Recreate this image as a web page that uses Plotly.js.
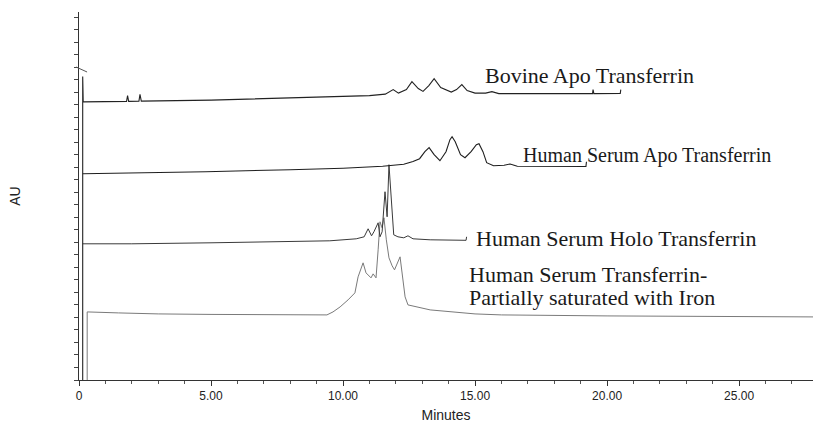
<!DOCTYPE html>
<html>
<head>
<meta charset="utf-8">
<script src="https://cdn.plot.ly/plotly-3.0.1.min.js"></script>
<style>html,body{margin:0;padding:0;background:#fff;}#chart{width:813px;height:423px;}</style>
</head>
<body>
<div id="chart"></div>
<script>
// Retention time (minutes) and absorbance (AU, offset per trace)
const bovineTime = [0.14,0.14,0.16,1.80,1.84,1.88,2.27,2.31,2.36,5,8,10,11,11.6,11.9,12.1,12.4,12.61,12.85,13.03,13.25,13.45,13.7,14.1,14.3,14.5,14.7,15.0,15.4,15.64,15.9,17,19.45,19.47,19.5,20.5,20.52];
const bovineAU   = [0,24.24,22.22,22.26,22.72,22.26,22.28,22.82,22.28,22.36,22.52,22.64,22.72,22.84,23.2,22.92,23.2,23.84,23.28,23.06,23.52,24.08,23.36,23.0,23.2,23.6,23.12,22.92,22.92,23.04,22.88,22.88,22.88,23.2,22.88,22.9,23.2];

const humanApoTime = [0.14,1.9,4.8,8,10,11.5,12.3,12.65,12.9,13.1,13.26,13.45,13.67,13.9,14.05,14.13,14.25,14.45,14.62,14.85,15.05,15.15,15.3,15.44,15.7,16.1,16.33,16.6,19.2,19.22];
const humanApoAU   = [16.48,16.52,16.64,16.8,16.92,17.08,17.24,17.46,17.68,18.24,18.56,18.0,17.52,18.24,19.2,19.44,19.04,18.0,17.76,18.24,18.8,18.88,18.24,17.36,17.12,17.16,17.26,17.08,17.06,17.44];

const holoTime = [0.14,2,5,8,9.5,10.5,10.8,10.95,11.08,11.17,11.33,11.4,11.48,11.59,11.67,11.74,11.86,11.92,12.08,12.3,12.46,12.65,13.3,14.0,14.66,14.68];
const holoAU   = [10.88,10.88,10.96,11.04,11.12,11.28,11.44,12.08,11.52,11.84,12.56,11.44,11.84,15.04,13.04,17.2,13.04,11.6,11.44,11.36,11.52,11.28,11.2,11.16,11.16,11.44];

const partialTime = [0.31,0.31,1.5,3,5,7,8.5,9.39,9.62,9.89,10.19,10.45,10.57,10.76,10.87,10.95,11.06,11.14,11.25,11.33,11.40,11.48,11.55,11.64,11.74,11.86,11.95,12.16,12.27,12.35,12.46,12.8,13.3,15,16,20,27.8];
const partialAU   = [0,5.44,5.36,5.28,5.24,5.2,5.16,5.2,5.44,5.84,6.4,6.96,8.24,9.36,8.56,8.4,8.16,8.48,8.16,10.4,12.64,12.16,12.96,11.2,9.76,9.12,8.8,9.84,7.76,6.64,6.0,5.84,5.6,5.28,5.2,5.12,5.04];

const seriesNames = ["Bovine Apo Transferrin","Human Serum Apo Transferrin","Human Serum Holo Transferrin","Human Serum Transferrin-","Partially saturated with Iron"];
const xTickVals = [0,5,10,15,20,25];
const xTickText = ["0","5.00","10.00","15.00","20.00","25.00"];

const traces = [
  {x: partialTime, y: partialAU, name: seriesNames[3], line:{color:'#7a7a7a', width:1}},
  {x: holoTime, y: holoAU, name: seriesNames[2], line:{color:'#3a3a3a', width:1}},
  {x: humanApoTime, y: humanApoAU, name: seriesNames[1], line:{color:'#1e1e1e', width:1.1}},
  {x: bovineTime, y: bovineAU, name: seriesNames[0], line:{color:'#222', width:1.1}}
].map(t => Object.assign({type:'scatter', mode:'lines', hoverinfo:'skip'}, t));

const serif = {family:'"Liberation Serif","Times New Roman",serif', size:22, color:'#1a1a1a'};
const annotations = [
  {x:15.32, y:24.32, text:seriesNames[0]},
  {x:16.74, y:17.9, text:seriesNames[1], font:Object.assign({}, serif, {size:20})},
  {x:14.96, y:11.28, text:seriesNames[2]},
  {x:14.69, y:8.4, text:seriesNames[3]},
  {x:14.69, y:6.56, text:seriesNames[4]}
].map(a => Object.assign({xref:'x', yref:'y', xanchor:'left', yanchor:'middle', showarrow:false, font:serif}, a));

const layout = {
  width:813, height:423,
  margin:{l:79, r:0, t:12, b:43},
  paper_bgcolor:'#fff', plot_bgcolor:'#fff',
  showlegend:false,
  font:{family:'"Liberation Sans",Arial,sans-serif', color:'#222'},
  xaxis:{
    range:[0,27.8], showgrid:false, zeroline:false,
    showline:true, linecolor:'#333', linewidth:1,
    ticks:'outside', ticklen:5, tickcolor:'#333',
    tickvals:xTickVals, ticktext:xTickText,
    tickfont:{size:12, color:'#222'},
    minor:{dtick:1, ticks:'outside', ticklen:3, tickcolor:'#555'},
    title:{text:'Minutes', font:{size:14, color:'#222'}, standoff:12}
  },
  yaxis:{
    range:[0,29.4], showgrid:false, zeroline:false,
    showline:true, linecolor:'#333', linewidth:1,
    ticks:'outside', ticklen:4, tickcolor:'#444', dtick:1, tick0:0,
    showticklabels:false,
    title:{text:'AU', font:{size:14, color:'#222'}, standoff:50}
  },
  annotations: annotations,
  shapes:[
    {type:'line', xref:'paper', yref:'paper', x0:-0.004, x1:0.011, y0:(380-67)/368, y1:(380-72)/368, line:{color:'#555', width:1}}
  ]
};

Plotly.newPlot('chart', traces, layout, {displayModeBar:false, staticPlot:true});
</script>
</body>
</html>
